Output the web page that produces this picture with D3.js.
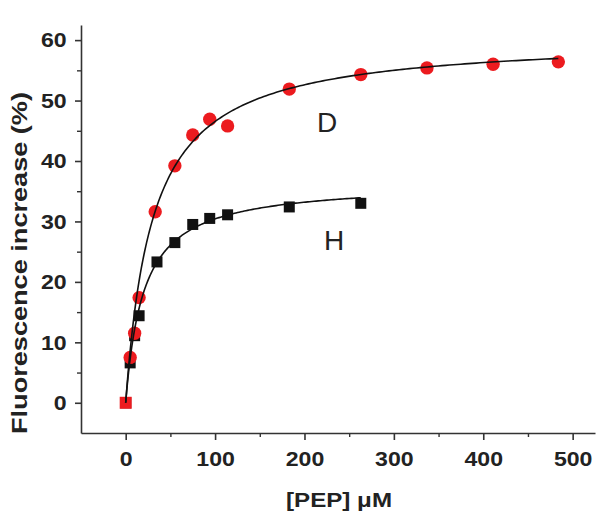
<!DOCTYPE html>
<html>
<head>
<meta charset="utf-8">
<script src="https://cdn.jsdelivr.net/npm/d3@7"></script>
<style>
  html, body { margin: 0; padding: 0; background: #fff; }
  svg { display: block; }
  text { font-family: "Liberation Sans", Arial, sans-serif; fill: #222; }
</style>
</head>
<body>
<svg id="chart" width="600" height="523"></svg>
<script>
/* ------------------ data ------------------ */

// series D (red circles)
const pepD = [0, 5, 10, 15, 33, 55, 75, 94, 114, 183, 263, 337, 411, 484];
const fluorD = [0, 7.5, 11.5, 17.4, 31.6, 39.2, 44.3, 46.9, 45.8, 51.9, 54.3, 55.4, 56.0, 56.4];

// series H (black squares)
const pepH = [0, 5, 10, 15, 35, 55, 75, 94, 114, 183, 263];
const fluorH = [0, 6.6, 11.1, 14.4, 23.3, 26.5, 29.5, 30.5, 31.1, 32.4, 33.0];

// hyperbolic fits: y = bmax * x / (kd + x)
const fitD = { bmax: 60.5, kd: 30, xEnd: 484 };
const fitH = { bmax: 36.5, kd: 20, xEnd: 263 };

const xMajor = [0, 100, 200, 300, 400, 500];
const xMinor = [50, 150, 250, 350, 450];
const yMajor = [0, 10, 20, 30, 40, 50, 60];
const yMinor = [5, 15, 25, 35, 45, 55];

/* ------------------ constants ------------------ */

const RED = "#ec1b1f";
const INK = "#111";
const AXIS = "#333";

const svg = d3.select("#chart");

const x = d3.scaleLinear().domain([-50, 525]).range([81, 595]);
const y = d3.scaleLinear().domain([-5, 62.5]).range([433, 25]);

/* ------------------ axes ------------------ */

function drawAxis(g, axis, minorAxis) {
  g.call(axis);
  g.select(".domain").attr("stroke", AXIS).attr("stroke-width", 1.6);
  g.selectAll(".tick line").attr("stroke", AXIS).attr("stroke-width", 1.6);
  g.selectAll(".tick text")
    .attr("font-size", 21)
    .attr("font-weight", "bold")
    .attr("fill", "#222");
  const m = g.append("g").call(minorAxis);
  m.select(".domain").remove();
  m.selectAll(".tick line").attr("stroke", AXIS).attr("stroke-width", 1.4);
}

const gx = svg.append("g").attr("transform", `translate(0,${y(-5)})`);
drawAxis(gx,
  d3.axisBottom(x).tickValues(xMajor).tickSize(7).tickSizeOuter(0).tickPadding(11),
  d3.axisBottom(x).tickValues(xMinor).tickSize(4).tickFormat(""));
gx.selectAll(".tick text").attr("transform", "scale(1.1,1)");

const gy = svg.append("g").attr("transform", `translate(${x(-50)},0)`);
drawAxis(gy,
  d3.axisLeft(y).tickValues(yMajor).tickSize(6).tickSizeOuter(0).tickPadding(7),
  d3.axisLeft(y).tickValues(yMinor).tickSize(4).tickFormat(""));
gy.selectAll(".tick text").attr("transform", "scale(1.1,1)");

// axis titles
svg.append("text")
  .attr("x", 339)
  .attr("y", 507)
  .attr("text-anchor", "middle")
  .attr("font-size", 20)
  .attr("font-weight", "bold")
  .attr("textLength", 106)
  .attr("lengthAdjust", "spacingAndGlyphs")
  .text("[PEP] μM");

svg.append("text")
  .attr("transform", "translate(27,263) rotate(-90)")
  .attr("text-anchor", "middle")
  .attr("font-size", 22)
  .attr("font-weight", "bold")
  .attr("textLength", 342)
  .attr("lengthAdjust", "spacingAndGlyphs")
  .text("Fluorescence increase (%)");

/* ------------------ markers ------------------ */

const ptsH = pepH.map((p, i) => ({ p, f: fluorH[i] }));
const ptsD = pepD.map((p, i) => ({ p, f: fluorD[i] }));

svg.append("g")
  .selectAll("rect")
  .data(ptsH)
  .join("rect")
  .attr("x", d => x(d.p) - 5.5)
  .attr("y", d => y(d.f) - 5.5)
  .attr("width", 11)
  .attr("height", 11)
  .attr("fill", INK);

// the origin reading of D is drawn as a square in the source figure
svg.append("g")
  .selectAll("path")
  .data(ptsD)
  .join("path")
  .attr("transform", d => `translate(${x(d.p)},${y(d.f)})`)
  .attr("d", d => d3.symbol()
    .type(d.p === 0 ? d3.symbolSquare : d3.symbolCircle)
    .size(d.p === 0 ? 144 : 140)())
  .attr("fill", RED);

/* ------------------ fit curves ------------------ */

const line = d3.line()
  .x(d => x(d[0]))
  .y(d => y(d[1]));

function fitPoints(fit) {
  return d3.range(0, 201).map(i => {
    const t = fit.xEnd * Math.pow(i / 200, 2);
    return [t, fit.bmax * t / (fit.kd + t)];
  });
}

[fitD, fitH].forEach(fit => {
  svg.append("path")
    .attr("d", line(fitPoints(fit)))
    .attr("fill", "none")
    .attr("stroke", INK)
    .attr("stroke-width", 1.6);
});

/* ------------------ labels ------------------ */

svg.append("text")
  .attr("x", 327)
  .attr("y", 132)
  .attr("text-anchor", "middle")
  .attr("font-size", 28)
  .text("D");

svg.append("text")
  .attr("x", 334)
  .attr("y", 250)
  .attr("text-anchor", "middle")
  .attr("font-size", 28)
  .text("H");
</script>
</body>
</html>
